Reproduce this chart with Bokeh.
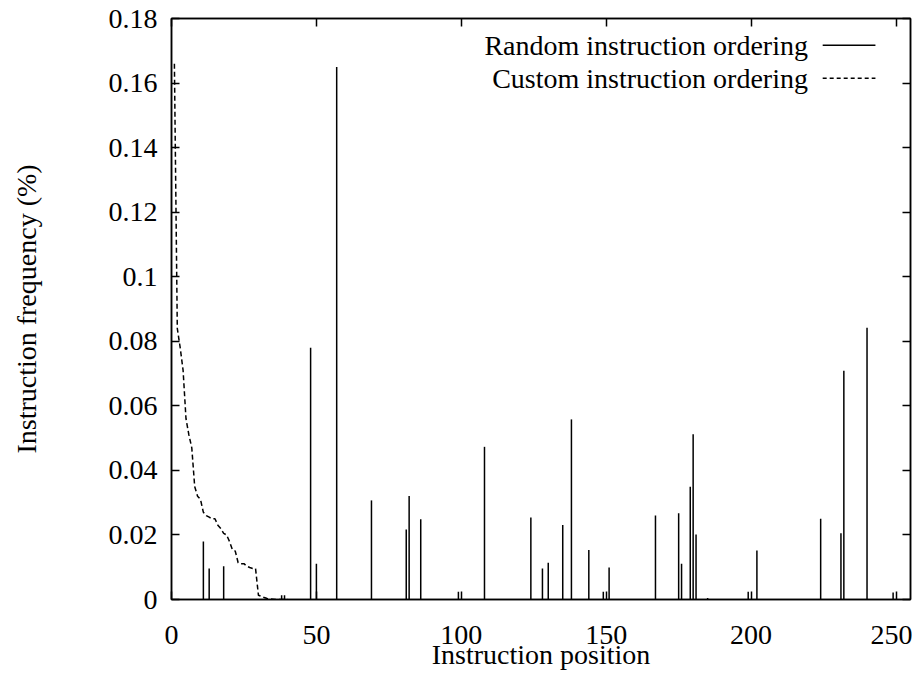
from bokeh.plotting import figure
from bokeh.models import Range1d, FixedTicker, LinearAxis, CustomJSTickFormatter, Label, Arrow
from bokeh.embed import file_html
from bokeh.resources import INLINE

# Random instruction ordering: position -> frequency (%)
random_pos = [11, 13, 18, 38, 39, 48, 50, 57, 69, 81, 82, 86, 99, 108, 124, 128,
              130, 135, 138, 144, 149, 151, 167, 175, 176, 179, 180, 181, 185,
              199, 202, 224, 231, 232, 240, 249]
random_freq = [0.018, 0.0096, 0.0103, 0.0013, 0.0013, 0.078, 0.0111, 0.165, 0.0307,
               0.0217, 0.0321, 0.0249, 0.0024, 0.0473, 0.0254, 0.0096, 0.0114, 0.0231,
               0.0558, 0.0153, 0.0024, 0.0099, 0.026, 0.0267, 0.0111, 0.0349, 0.0512,
               0.0201, 0.0005, 0.0024, 0.0152, 0.025, 0.0205, 0.0709, 0.0842, 0.0022]

# Custom instruction ordering
custom_pos = [1, 2, 3, 4, 5, 6, 7, 8, 9, 10, 11, 12, 13, 14, 15, 16, 17, 18, 19, 20,
              21, 22, 23, 24, 25, 26, 27, 28, 29, 30, 31, 32, 33, 34, 35, 36, 37, 38, 39, 40]
custom_freq = [0.166, 0.084, 0.078, 0.071, 0.056, 0.051, 0.047, 0.035, 0.032, 0.031,
               0.027, 0.026, 0.0255, 0.025, 0.025, 0.023, 0.022, 0.0205, 0.020, 0.018,
               0.0155, 0.015, 0.0114, 0.0111, 0.0111, 0.0103, 0.0099, 0.0096, 0.0096, 0.0013,
               0.0010, 0.0006, 0.0003, 0.0002, 0.0001, 0.0, 0.0, 0.0, 0.0, 0.0]

x_ticks = [0, 50, 100, 150, 200, 250]
y_ticks = [0.0, 0.02, 0.04, 0.06, 0.08, 0.1, 0.12, 0.14, 0.16, 0.18]

legend_random = "Random instruction ordering"
legend_custom = "Custom instruction ordering"
x_title = "Instruction position"
y_title = "Instruction frequency (%)"

FONT = "Liberation Serif"
FS = "28px"

p = figure(width=912, height=682, output_backend="svg", toolbar_location=None,
           x_range=Range1d(0, 255), y_range=Range1d(0, 0.18),
           min_border_left=171, min_border_right=2, min_border_top=18, min_border_bottom=83)
p.grid.visible = False
p.outline_line_color = "black"
p.outline_line_width = 1.5
p.background_fill_color = "white"
p.border_fill_color = "white"

yfmt = CustomJSTickFormatter(code="""
const s = tick.toFixed(2);
return s.replace(/\\.?0+$/, '');
""")
blank = CustomJSTickFormatter(code="return '';")

def style_axis(ax, show_labels):
    ax.axis_line_color = "black"
    ax.axis_line_width = 1.5
    ax.major_tick_in = 8
    ax.major_tick_out = 0
    ax.major_tick_line_color = "black"
    ax.major_tick_line_width = 1.5
    ax.minor_tick_line_color = None
    ax.major_label_text_font = FONT
    ax.major_label_text_color = "black"
    ax.axis_label_text_font = FONT
    ax.axis_label_text_font_size = FS
    ax.axis_label_text_font_style = "normal"
    ax.axis_label_text_color = "black"
    if show_labels:
        ax.major_label_text_font_size = FS
    else:
        ax.formatter = blank
        ax.major_label_text_font_size = "1px"
        ax.major_label_standoff = 0

xa = p.xaxis[0]
ya = p.yaxis[0]
xa.ticker = FixedTicker(ticks=x_ticks)
ya.ticker = FixedTicker(ticks=y_ticks)
ya.formatter = yfmt
style_axis(xa, True)
style_axis(ya, True)
xa.axis_label = x_title
ya.axis_label = y_title
xa.major_label_standoff = 26
xa.axis_label_standoff = -8
ya.major_label_standoff = 14
ya.axis_label_standoff = 64

ra = LinearAxis(ticker=FixedTicker(ticks=y_ticks))
style_axis(ra, False)
p.add_layout(ra, "right")
ta = LinearAxis(ticker=FixedTicker(ticks=x_ticks))
style_axis(ta, False)
p.add_layout(ta, "above")

# Random ordering spikes
p.segment(x0=random_pos, y0=[0.0] * len(random_pos), x1=random_pos, y1=random_freq,
          line_color="black", line_width=1.5)

# Custom ordering dashed curve
p.line(custom_pos, custom_freq, line_color="black", line_width=1.5, line_dash="5 3")

# Legend (gnuplot style: text right, sample line after)
ly1, ly2 = 0.1717, 0.1615
lx_text, lx0, lx1 = 219.6, 224.7, 242.9
p.add_layout(Label(x=lx_text, y=ly1, text=legend_random, text_align="right",
                   text_baseline="middle", text_font=FONT, text_font_size=FS,
                   text_color="black"))
p.add_layout(Label(x=lx_text, y=ly2, text=legend_custom, text_align="right",
                   text_baseline="middle", text_font=FONT, text_font_size=FS,
                   text_color="black"))
p.add_layout(Arrow(end=None, x_start=lx0, y_start=ly1, x_end=lx1, y_end=ly1,
                   line_color="black", line_width=1.5))
p.add_layout(Arrow(end=None, x_start=lx0, y_start=ly2, x_end=lx1, y_end=ly2,
                   line_color="black", line_width=1.5, line_dash="4 3"))

open("out.html", "w").write(file_html(p, INLINE))
